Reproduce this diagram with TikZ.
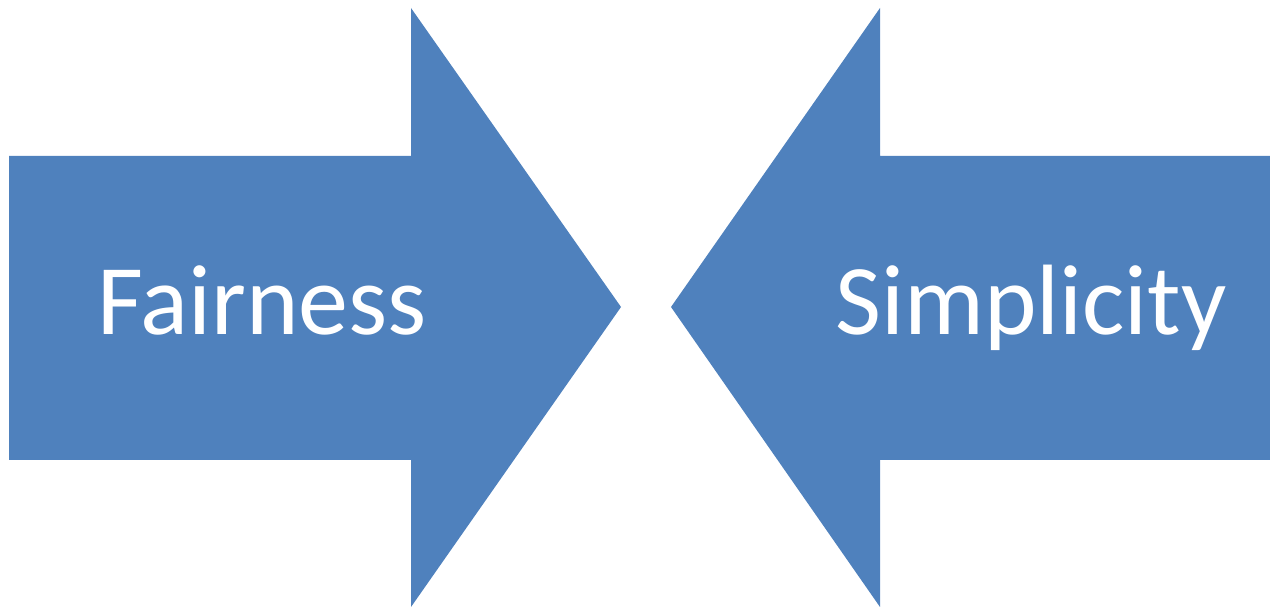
\documentclass[tikz,border=0pt]{standalone}
\usepackage{fontspec}
\setmainfont{Carlito}
\usepackage{xcolor}
\definecolor{b1}{HTML}{4F81BD}
\tikzset{
  blockarrow/.style={fill=b1,draw=none},
  label/.style={text=white,font=\fontsize{50}{60}\selectfont,inner sep=0pt}
}

\begin{document}
\begin{tikzpicture}[x=0.5pt,y=-0.5pt]
  \useasboundingbox (0,0) rectangle (1270,608);
  \def\bt{156}
  \def\bb{460}
  \def\bm{307}
  % left arrow
  \fill[blockarrow] (9,\bt) -- (411,\bt) -- (411,8) -- (621,\bm)
    -- (411,607) -- (411,\bb) -- (9,\bb) -- cycle;
  % right arrow
  \fill[blockarrow] (1270,\bt) -- (880,\bt) -- (880,8) -- (671,\bm)
    -- (880,607) -- (880,\bb) -- (1270,\bb) -- cycle;
  \node[label,anchor=base] (fair) at (262,335) {Fairness};
  \node[label,anchor=base] (simp) at (1031,335) {Simplicity};
\end{tikzpicture}
\end{document}
